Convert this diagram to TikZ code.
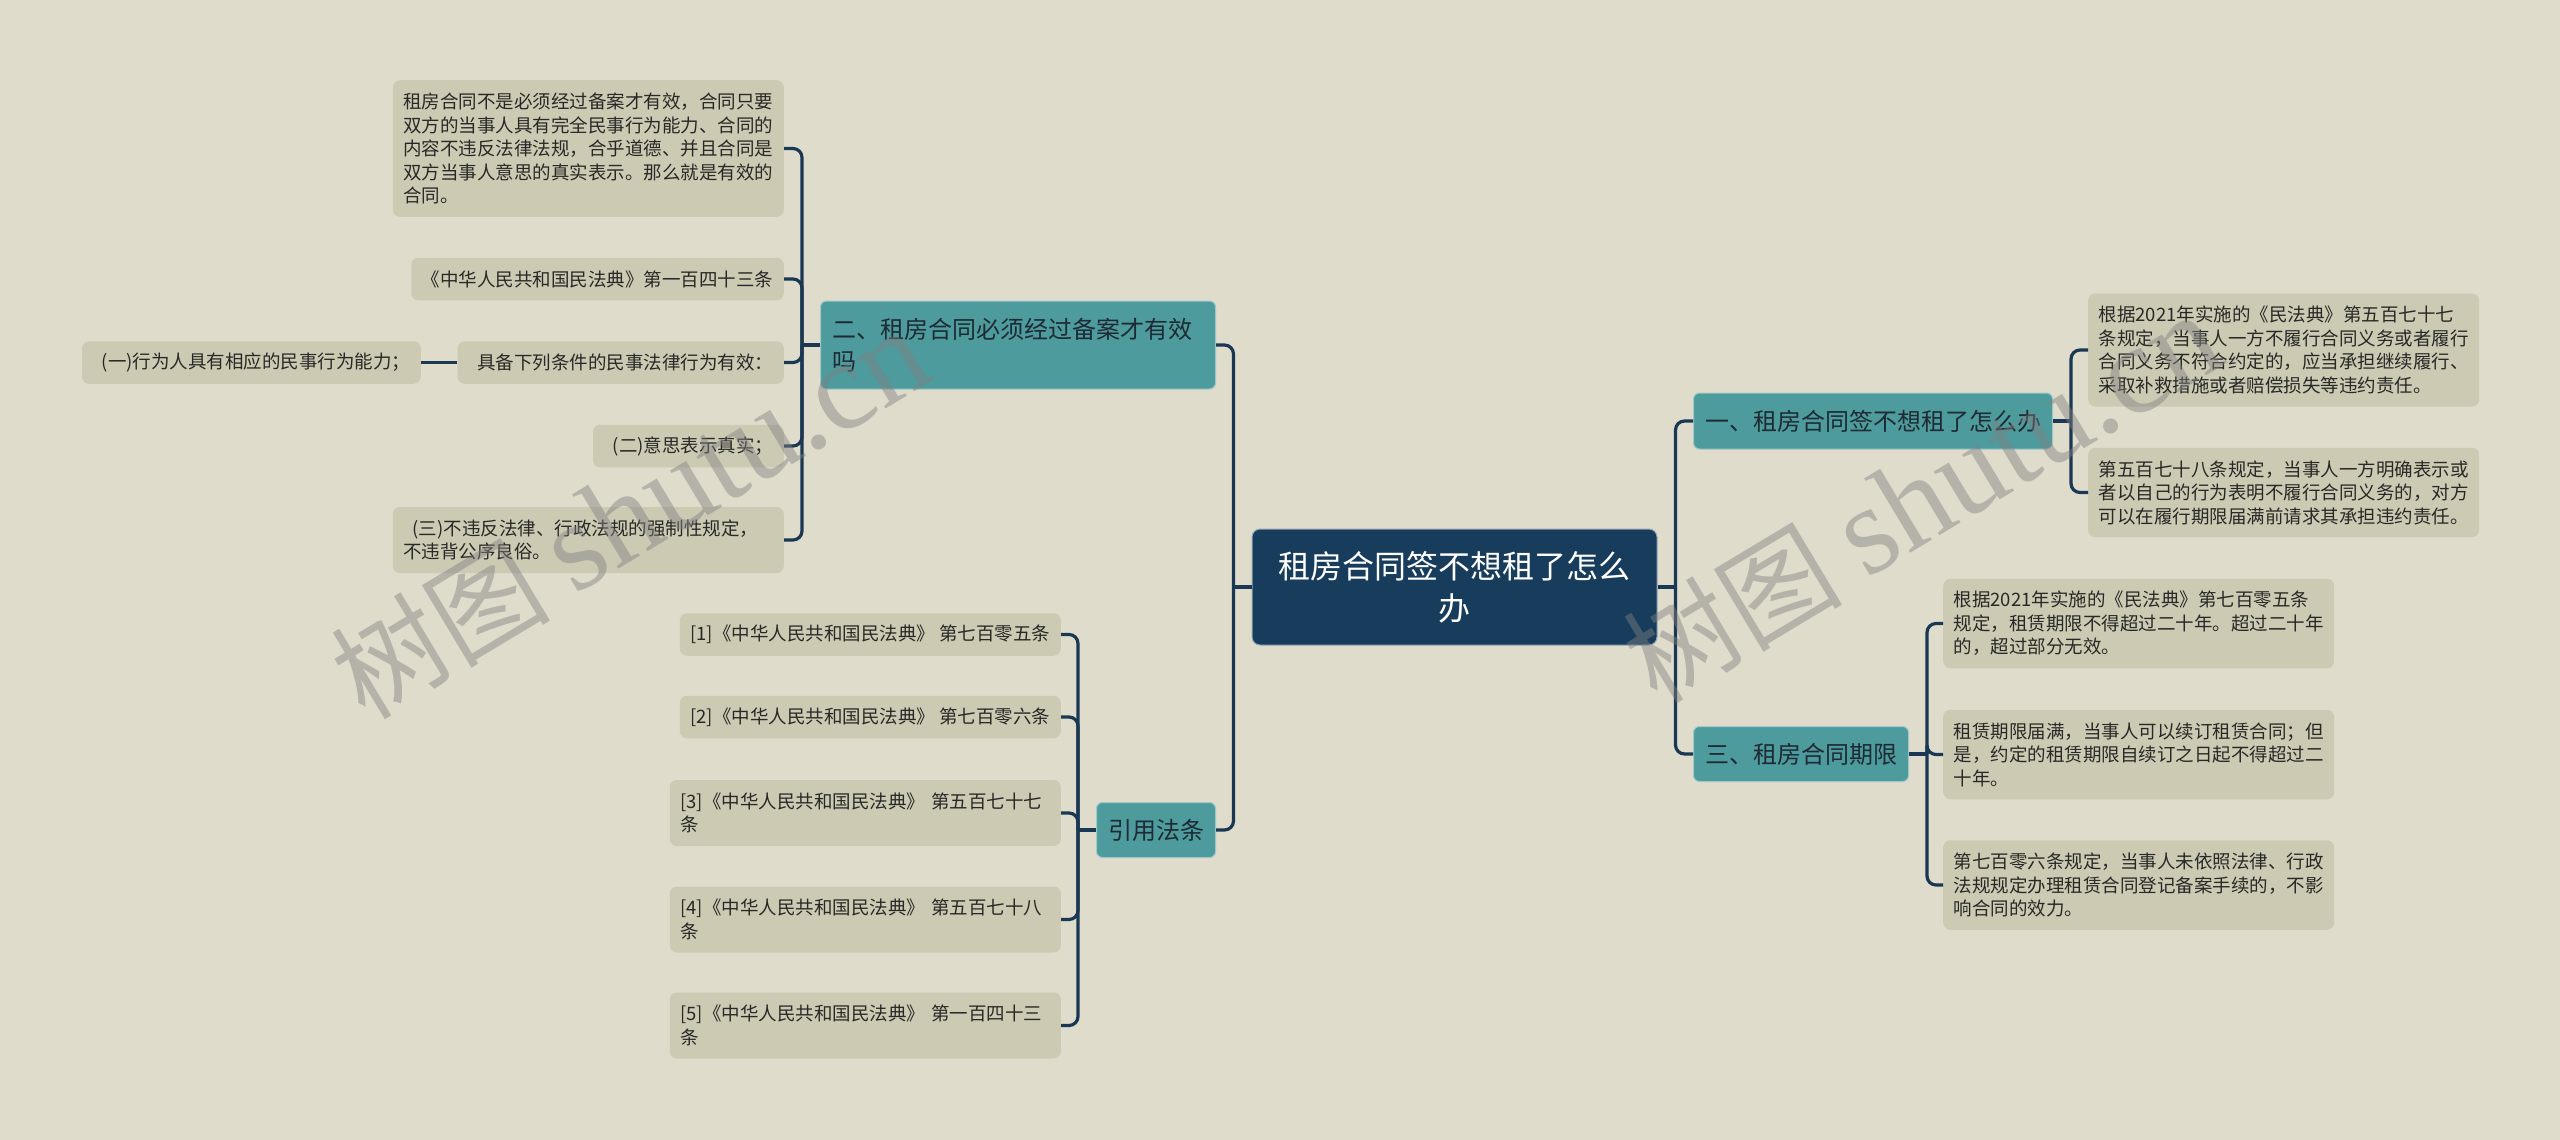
\documentclass[tikz,border=0pt]{standalone}
\usepackage{fontspec}
\setmainfont{Noto Sans CJK SC}
\newfontfamily\wmserif{Liberation Serif}

\definecolor{bgcol}{RGB}{223,220,203}
\definecolor{leafcol}{RGB}{205,202,180}
\definecolor{tealcol}{RGB}{78,155,157}
\definecolor{rootcol}{RGB}{24,61,92}
\definecolor{linecol}{RGB}{26,56,84}
\definecolor{inkcol}{RGB}{40,40,38}
\definecolor{topicink}{RGB}{30,42,52}

\begin{document}
\begin{tikzpicture}[x=1pt, y=-1pt,
    main/.style = {fill=rootcol, draw=rootcol!45!white, line width=1pt, rounded corners=8pt,
                   text=white, align=center, minimum width=405pt, minimum height=116pt,
                   font=\fontsize{32pt}{42pt}\selectfont},
    topic/.style = {fill=tealcol, draw=tealcol!55!white, line width=1pt, rounded corners=6pt,
                    text=topicink, align=left, inner xsep=11.5pt, inner ysep=4pt, minimum height=55pt,
                    font=\fontsize{24pt}{32pt}\selectfont},
    leaf/.style = {fill=leafcol, rounded corners=7pt, text=inkcol, align=left,
                   inner xsep=10.5pt, inner ysep=3pt, font=\fontsize{18.5pt}{23.5pt}\selectfont},
    wide/.style = {text width=370pt},
    lines/.style = {minimum height=18.5pt+23.5pt*(#1-1)+24pt},
    link/.style = {draw=linecol, line width=3.2pt},
    elbow/.style = {link, rounded corners=9pt, to path={|- (\tikztotarget)}},
    wm/.style = {text=gray, text opacity=0.45, rotate=31, font=\fontsize{110pt}{110pt}\selectfont}]

    \useasboundingbox (0,0) rectangle (2560,1140);
    \clip (0,0) rectangle (2560,1140);
    \fill[bgcol] (0,0) rectangle (2560,1140);

    % centre and the four topics
    \node[main] (root) at (1454.5,587) {租房合同签不想租了怎么\\办};
    \node[topic, anchor=east, text width=372pt, minimum height=88pt] (t2) at (1216,345) {二、租房合同必须经过备案才有效\\吗};
    \node[topic, anchor=east] (law) at (1216,830) {引用法条};
    \node[topic, anchor=west, minimum height=56pt] (t1) at (1693,421) {一、租房合同签不想租了怎么办};
    \node[topic, anchor=west] (t3) at (1693,754) {三、租房合同期限};

    % left side
    \node[leaf, wide, lines=5, anchor=east] (n1) at (784,148.5) {租房合同不是必须经过备案才有效，合同只要\\双方的当事人具有完全民事行为能力、合同的\\内容不违反法律法规，合乎道德、并且合同是\\双方当事人意思的真实表示。那么就是有效的\\合同。};
    \node[leaf, lines=1, anchor=east] (n2) at (784,279) {《中华人民共和国民法典》第一百四十三条};
    \node[leaf, lines=1, anchor=east] (n3) at (784,362.5) {\hspace*{.5em}具备下列条件的民事法律行为有效：};
    \node[leaf, lines=1, anchor=east] (n3a) at (421,362.5) {\hspace*{.5em}(一)行为人具有相应的民事行为能力；};
    \node[leaf, lines=1, anchor=east] (n4) at (784,446) {\hspace*{.5em}(二)意思表示真实；};
    \node[leaf, wide, lines=2, anchor=east] (n5) at (784,540) {\hspace*{.5em}(三)不违反法律、行政法规的强制性规定，\\不违背公序良俗。};

    \node[leaf, lines=1, anchor=east] (c1) at (1061,634.5) {[1]《中华人民共和国民法典》 第七百零五条};
    \node[leaf, lines=1, anchor=east] (c2) at (1061,717) {[2]《中华人民共和国民法典》 第七百零六条};
    \node[leaf, wide, lines=2, anchor=east] (c3) at (1061,813) {[3]《中华人民共和国民法典》 第五百七十七\\条};
    \node[leaf, wide, lines=2, anchor=east] (c4) at (1061,919.5) {[4]《中华人民共和国民法典》 第五百七十八\\条};
    \node[leaf, wide, lines=2, anchor=east] (c5) at (1061,1025.5) {[5]《中华人民共和国民法典》 第一百四十三\\条};

    % right side
    \node[leaf, wide, lines=4, anchor=west] (a1) at (2088,350) {根据2021年实施的《民法典》第五百七十七\\条规定，当事人一方不履行合同义务或者履行\\合同义务不符合约定的，应当承担继续履行、\\采取补救措施或者赔偿损失等违约责任。};
    \node[leaf, wide, lines=3, anchor=west] (a2) at (2088,492.5) {第五百七十八条规定，当事人一方明确表示或\\者以自己的行为表明不履行合同义务的，对方\\可以在履行期限届满前请求其承担违约责任。};

    \node[leaf, wide, lines=3, anchor=west] (s1) at (1943,623.5) {根据2021年实施的《民法典》第七百零五条\\规定，租赁期限不得超过二十年。超过二十年\\的，超过部分无效。};
    \node[leaf, wide, lines=3, anchor=west] (s2) at (1943,754.5) {租赁期限届满，当事人可以续订租赁合同；但\\是，约定的租赁期限自续订之日起不得超过二\\十年。};
    \node[leaf, wide, lines=3, anchor=west] (s3) at (1943,885) {第七百零六条规定，当事人未依照法律、行政\\法规规定办理租赁合同登记备案手续的，不影\\响合同的效力。};

    % branch points
    \coordinate (jl) at ([xshift=-18pt]root.west);
    \coordinate (jr) at ([xshift=18pt]root.east);
    \coordinate (j2) at ([xshift=-18pt]t2.west);
    \coordinate (jlaw) at ([xshift=-18pt]law.west);
    \coordinate (j1) at ([xshift=18pt]t1.east);
    \coordinate (j3) at ([xshift=18pt]t3.east);

    \draw[link] (root.west) -- (jl);
    \draw[link] (root.east) -- (jr);
    \path (jl) edge[elbow] (t2.east) edge[elbow] (law.east);
    \path (jr) edge[elbow] (t1.west) edge[elbow] (t3.west);

    \draw[link] (t2.west) -- (j2);
    \path (j2) edge[elbow] (n1.east) edge[elbow] (n2.east) edge[elbow] (n3.east)
               edge[elbow] (n4.east) edge[elbow] (n5.east);
    \draw[link] (n3.west) -- (n3a.east);

    \draw[link] (law.west) -- (jlaw);
    \path (jlaw) edge[elbow] (c1.east) edge[elbow] (c2.east) edge[elbow] (c3.east)
                 edge[elbow] (c4.east) edge[elbow] (c5.east);

    \draw[link] (t1.east) -- (j1);
    \path (j1) edge[elbow] (a1.west) edge[elbow] (a2.west);

    \draw[link] (t3.east) -- (j3);
    \path (j3) edge[elbow] (s1.west) edge[elbow] (s2.west) edge[elbow] (s3.west);

    % watermark
    \node[wm] (wm1) at (630,514) {树图 {\wmserif\fontsize{126pt}{126pt}\selectfont shutu.cn}};
    \node[wm] (wm2) at (1922,498) {树图 {\wmserif\fontsize{126pt}{126pt}\selectfont shutu.cn}};
\end{tikzpicture}
\end{document}
